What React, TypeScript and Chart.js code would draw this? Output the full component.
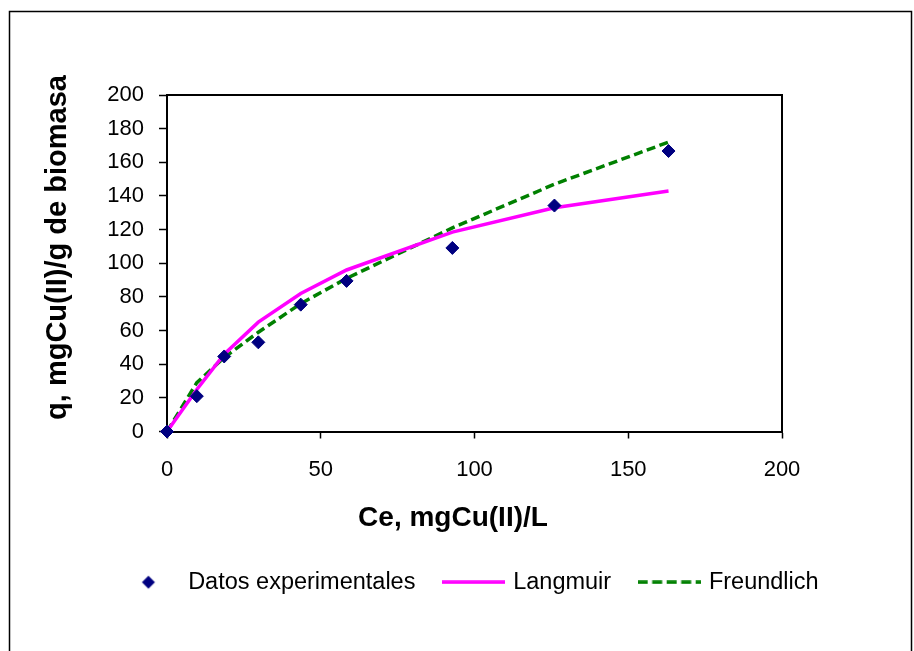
import React, { useEffect, useRef } from 'react';
import { Chart, registerables } from 'chart.js';

Chart.register(...registerables);

// ---- data ----
const ceExp = [0, 9.7, 18.6, 29.7, 43.5, 58.4, 92.8, 126.0, 163.1];
const qExp = [0, 21.0, 44.6, 53.0, 75.4, 89.5, 109.1, 134.3, 166.7];
const qLangmuir = [0, 25, 46, 65, 82, 96, 118.5, 133, 143];
const qFreundlich = [0, 29, 44, 59, 76, 91, 121, 147, 172];

const xTicks = [0, 50, 100, 150, 200];
const yTicks = [0, 20, 40, 60, 80, 100, 120, 140, 160, 180, 200];

const seriesNames = ['Datos experimentales', 'Langmuir', 'Freundlich'];
const xTitle = 'Ce, mgCu(II)/L';
const yTitle = 'q, mgCu(II)/g de biomasa';

const FONT = "'Liberation Sans', Arial, Helvetica, sans-serif";
const NAVY = '#000080';
const MAGENTA = '#FF00FF';
const GREEN = '#008000';

function makeDiamond(): HTMLCanvasElement {
  const c = document.createElement('canvas');
  c.width = 16;
  c.height = 16;
  const g = c.getContext('2d')!;
  g.fillStyle = NAVY;
  g.beginPath();
  g.moveTo(1.5, 8);
  g.lineTo(8, 1.5);
  g.lineTo(14.5, 8);
  g.lineTo(8, 14.5);
  g.closePath();
  g.fill();
  return c;
}

function makeLine(color: string, dash: number[]): HTMLCanvasElement {
  const c = document.createElement('canvas');
  c.width = 63;
  c.height = 4;
  const g = c.getContext('2d')!;
  g.strokeStyle = color;
  g.lineWidth = 3.5;
  g.setLineDash(dash);
  g.beginPath();
  g.moveTo(0, 2);
  g.lineTo(63, 2);
  g.stroke();
  return c;
}

const decorPlugin = {
  id: 'decor',
  beforeDraw(chart: any) {
    const { ctx, width, height } = chart;
    ctx.save();
    ctx.fillStyle = '#ffffff';
    ctx.fillRect(0, 0, width, height);
    ctx.strokeStyle = '#000000';
    ctx.lineWidth = 1.5;
    ctx.strokeRect(9.5, 11.5, 902, height + 20);
    ctx.restore();
  },
  beforeDatasetsDraw(chart: any) {
    const { ctx, chartArea: a } = chart;
    ctx.save();
    ctx.strokeStyle = '#000000';
    ctx.lineWidth = 2;
    ctx.beginPath();
    ctx.moveTo(a.left, a.top);
    ctx.lineTo(a.right, a.top);
    ctx.lineTo(a.right, a.bottom);
    ctx.stroke();
    ctx.restore();
  },
  afterDraw(chart: any) {
    const { ctx, chartArea: a } = chart;
    ctx.save();
    ctx.fillStyle = '#000000';
    ctx.textAlign = 'center';
    ctx.textBaseline = 'alphabetic';
    ctx.font = `bold 28px ${FONT}`;
    ctx.fillText(xTitle, a.left + 286, a.bottom + 94);
    ctx.translate(a.left - 101, a.top + 152.5);
    ctx.rotate(-Math.PI / 2);
    ctx.font = `bold 29px ${FONT}`;
    ctx.fillText(yTitle, 0, 0);
    ctx.restore();
  },
};

export default function App() {
  const ref = useRef<HTMLCanvasElement | null>(null);

  useEffect(() => {
    if (!ref.current) return;
    const legendImages = [makeDiamond(), makeLine(MAGENTA, []), makeLine(GREEN, [10, 4.5])];

    const chart = new Chart(ref.current, {
      type: 'scatter',
      data: {
        datasets: [
          {
            label: seriesNames[0],
            data: ceExp.map((x, i) => ({ x, y: qExp[i] })),
            pointStyle: 'rectRot',
            pointRadius: 6.5,
            pointHoverRadius: 6.5,
            pointBackgroundColor: NAVY,
            pointBorderColor: NAVY,
            pointBorderWidth: 1,
            showLine: false,
            clip: false,
          },
          {
            label: seriesNames[1],
            data: ceExp.map((x, i) => ({ x, y: qLangmuir[i] })),
            showLine: true,
            borderColor: MAGENTA,
            backgroundColor: MAGENTA,
            borderWidth: 3.5,
            pointRadius: 0,
            pointHoverRadius: 0,
            tension: 0,
            clip: false,
          },
          {
            label: seriesNames[2],
            data: ceExp.map((x, i) => ({ x, y: qFreundlich[i] })),
            showLine: true,
            borderColor: GREEN,
            backgroundColor: GREEN,
            borderWidth: 3.5,
            borderDash: [9, 4.5],
            pointRadius: 0,
            pointHoverRadius: 0,
            tension: 0,
            clip: false,
          },
        ],
      },
      options: {
        animation: false,
        responsive: true,
        maintainAspectRatio: false,
        devicePixelRatio: 1,
        layout: { padding: { top: 95, left: 25, right: 0, bottom: 47 } },
        plugins: {
          tooltip: { enabled: false },
          title: { display: false },
          legend: {
            display: true,
            position: 'bottom',
            align: 'center',
            labels: {
              usePointStyle: true,
              pointStyleWidth: 56,
              boxHeight: 14,
              padding: 30,
              color: '#000000',
              font: { family: FONT, size: 23.5 },
              generateLabels: (chart: any) => {
                const items = Chart.defaults.plugins.legend.labels.generateLabels(chart);
                items.forEach((it: any, i: number) => {
                  it.pointStyle = legendImages[i];
                  it.lineDash = [];
                });
                return items;
              },
            },
          },
        },
        scales: {
          x: {
            type: 'linear',
            position: 'bottom',
            min: 0,
            max: 200,
            afterBuildTicks: (s: any) => {
              s.ticks = xTicks.map((v) => ({ value: v }));
            },
            afterFit: (s: any) => {
              s.height = 109;
            },
            grid: {
              drawOnChartArea: false,
              drawTicks: true,
              tickLength: 7,
              tickColor: '#000000',
              tickWidth: 1.5,
            },
            border: { display: true, color: '#000000', width: 2 },
            ticks: {
              color: '#000000',
              font: { family: FONT, size: 22 },
              padding: 18,
              maxRotation: 0,
              autoSkip: false,
            },
          },
          y: {
            type: 'linear',
            position: 'left',
            min: 0,
            max: 200,
            afterBuildTicks: (s: any) => {
              s.ticks = yTicks.map((v) => ({ value: v }));
            },
            afterFit: (s: any) => {
              s.width = 142;
            },
            grid: {
              drawOnChartArea: false,
              drawTicks: true,
              tickLength: 8,
              tickColor: '#000000',
              tickWidth: 1.5,
            },
            border: { display: true, color: '#000000', width: 2 },
            ticks: {
              color: '#000000',
              font: { family: FONT, size: 22 },
              padding: 15,
              autoSkip: false,
            },
          },
          yR: {
            type: 'linear',
            position: 'right',
            display: true,
            grid: { display: false, drawTicks: false },
            border: { display: false },
            ticks: { display: false },
            afterFit: (s: any) => {
              s.width = 132;
            },
          },
        },
      } as any,
      plugins: [decorPlugin],
    });

    return () => {
      chart.destroy();
    };
  }, []);

  return (
    <div style={{ position: 'absolute', left: 0, top: 0, width: 914, height: 651 }}>
      <canvas ref={ref} />
    </div>
  );
}
